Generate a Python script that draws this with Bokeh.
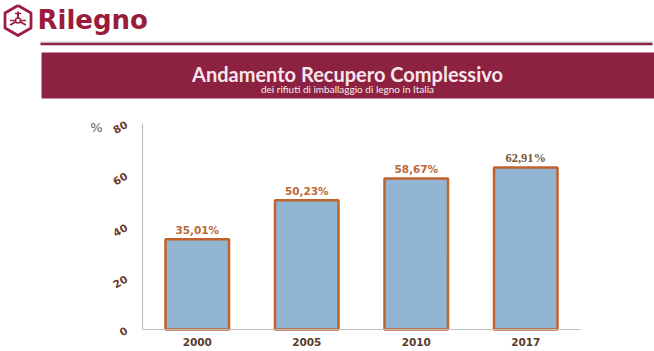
import math
from bokeh.plotting import figure
from bokeh.models import Range1d, FixedTicker, LinearAxis, ColumnDataSource
from bokeh.core.properties import value
from bokeh.embed import file_html
from bokeh.resources import INLINE

# ---- data ----
years = ["2000", "2005", "2010", "2017"]
recovery = [35.01, 50.23, 58.67, 62.91]
recovery_labels = ["35,01%", "50,23%", "58,67%", "62,91%"]
y_ticks = [0, 20, 40, 60, 80]

title_text = "Andamento Recupero Complessivo"
subtitle_text = "dei rifiuti di imballaggio di legno in Italia"
brand = "Rilegno"
unit_label = "%"

MAROON = "#8c2142"
W, H = 654, 351

# ---- layout geometry (pixels) ----
PLOT_L, PLOT_R = 142, 580      # chart area left/right (canvas px)
PLOT_T, PLOT_B = 123, 329      # chart area top (y=80) / bottom (y=0) (canvas px, from top)
Y_MAX = 80
n = len(years)
cat_w = (PLOT_R - PLOT_L) / n
y_scale = (PLOT_B - PLOT_T) / Y_MAX
bottom_gap = H - PLOT_B

x_range = Range1d(-PLOT_L / cat_w, (W - PLOT_L) / cat_w)
y_range = Range1d(-bottom_gap / y_scale, (H - bottom_gap) / y_scale)

p = figure(width=W, height=H, x_range=x_range, y_range=y_range,
           output_backend="svg", toolbar_location=None,
           x_axis_location=None, y_axis_location=None, min_border=0)
p.outline_line_color = None
p.grid.visible = False
p.background_fill_color = "white"
p.border_fill_color = "white"

# pixel coordinate ranges for decorations
p.extra_x_ranges = {"px": Range1d(0, W)}
p.extra_y_ranges = {"px": Range1d(H, 0)}
PX = dict(x_range_name="px", y_range_name="px")

# ---- header: logo ----
cx, cy, r = 17.5, 20, 15
angs = (90, 30, -30, -90, -150, 150, 90)
hx = [cx + r * math.cos(math.radians(a)) for a in angs]
hy = [cy - r * math.sin(math.radians(a)) for a in angs]
p.line(hx, hy, line_color="#9b1f42", line_width=2.8, line_join="round", **PX)
for a in (90, 210, 330):
    p.line([cx, cx + 9 * math.cos(math.radians(a))], [cy, cy - 9 * math.sin(math.radians(a))],
           line_color="#9b1f42", line_width=2, **PX)
p.line([cx - 8, cx + 8], [cy, cy], line_color="#9b1f42", line_width=1.6, **PX)
p.line([cx - 3, cx + 3], [cy - 7, cy - 7], line_color="#9b1f42", line_width=1.6, **PX)
p.scatter([cx], [cy], size=5, fill_color="white", line_color="#9b1f42", line_width=1.5, **PX)

p.text(x=[37], y=[19.5], text=[brand], text_font=value("DejaVu Sans"), text_font_style="bold",
       text_font_size="26px", text_color="#9b1b3d", text_baseline="middle",
       text_align="left", **PX)

# separator line
p.line([40, 652], [41.5, 41.5], line_color="#c8c8c8", line_width=1, **PX)
p.line([40, 652], [43.5, 43.5], line_color=MAROON, line_width=2.5, **PX)

# banner
p.quad(left=[41], right=[W], top=[52], bottom=[98], fill_color=MAROON, line_color=None, **PX)
p.text(x=[347], y=[73], text=[title_text], text_font=value("Lato"), text_font_style="bold",
       text_font_size="20px", text_color="#f7e6ec", text_align="center",
       text_baseline="middle", **PX)
p.text(x=[347], y=[88.5], text=[subtitle_text], text_font=value("Lato"),
       text_font_size="10px", text_color="#f7eef1", text_align="center",
       text_baseline="middle", **PX)

# unit label
p.text(x=[96], y=[127], text=[unit_label], text_font=value("DejaVu Sans"),
       text_font_size="13px", text_color="#606060", text_align="center",
       text_baseline="middle", **PX)

# ---- bars ----
xpos = [i + 0.5 for i in range(n)]
src = ColumnDataSource(dict(x=xpos, val=recovery, lab=recovery_labels))
p.vbar(x="x", top="val", width=0.58, source=src, fill_color="#92b5d4",
       line_color="#c0622b", line_width=2.5)

src_a = ColumnDataSource(dict(x=xpos[:3], val=recovery[:3], lab=recovery_labels[:3]))
src_b = ColumnDataSource(dict(x=xpos[3:], val=recovery[3:], lab=recovery_labels[3:]))
p.text(x="x", y="val", text="lab", source=src_a, y_offset=-3,
       text_font=value("DejaVu Sans"), text_font_style="bold", text_font_size="10.5px",
       text_color="#bb6a36", text_align="center", text_baseline="bottom")
p.text(x="x", y="val", text="lab", source=src_b, y_offset=-3,
       text_font=value("Liberation Serif"), text_font_style="bold", text_font_size="12.5px",
       text_color="#7a5536", text_align="center", text_baseline="bottom")

# ---- axes ----
xaxis = LinearAxis(fixed_location=0, bounds=(0, n),
                   ticker=FixedTicker(ticks=xpos),
                   major_label_overrides={x: y for x, y in zip(xpos, years)})
yaxis = LinearAxis(fixed_location=0, bounds=(0, Y_MAX), ticker=FixedTicker(ticks=y_ticks))
for ax in (xaxis, yaxis):
    ax.axis_line_color = "#bfbfbf"
    ax.axis_line_width = 1.2
    ax.major_tick_line_color = None
    ax.minor_tick_line_color = None
    ax.major_label_text_font = "DejaVu Sans"
    ax.major_label_text_font_style = "bold"
    ax.major_label_text_font_size = "10.5px"
xaxis.major_label_text_color = "#5a3b2b"
xaxis.major_label_standoff = 2
yaxis.major_label_orientation = math.pi / 6
yaxis.major_label_text_color = "#6a3a2a"
yaxis.major_label_standoff = 10
p.add_layout(xaxis, "below")
p.add_layout(yaxis, "left")

open("out.html", "w").write(file_html(p, INLINE))
